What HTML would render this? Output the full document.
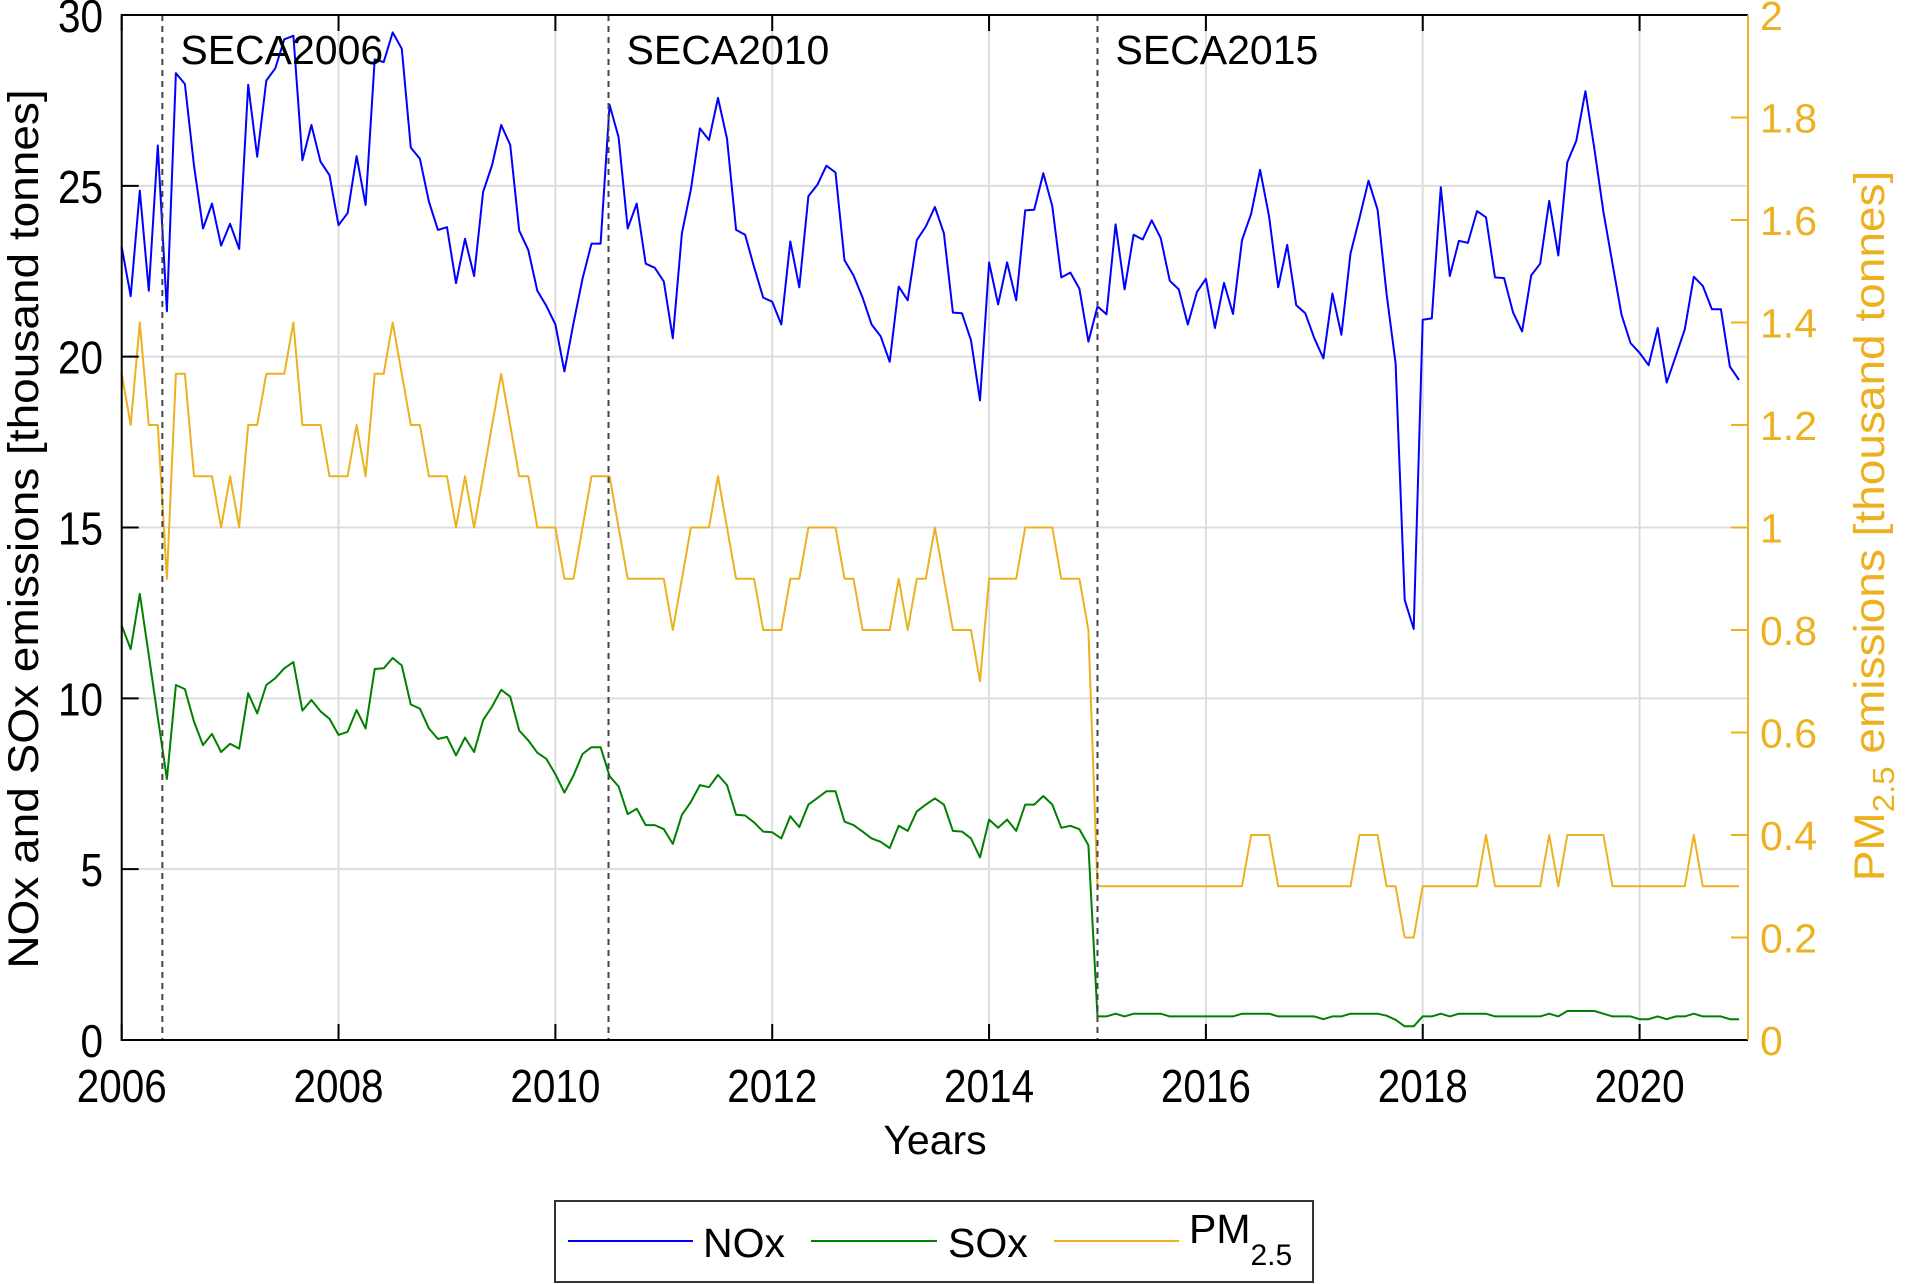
<!DOCTYPE html>
<html><head><meta charset="utf-8">
<style>
html,body{margin:0;padding:0;background:#fff;}
svg{display:block;font-family:"Liberation Sans",sans-serif;}
</style></head>
<body>
<svg id="chart" width="1906" height="1284" viewBox="0 0 1906 1284" xmlns="http://www.w3.org/2000/svg">
<rect x="0" y="0" width="1906" height="1284" fill="#fff"/>
<g id="grid"></g>
<g id="marks"></g>
<g id="axes"></g>
<text x="0" y="0" transform="translate(38,529) rotate(-90) scale(1,0.92)" text-anchor="middle" font-size="46" fill="#000">NOx and SOx emissions [thousand tonnes]</text>
<text x="0" y="0" transform="translate(1884,526) rotate(-90) scale(1,0.92)" text-anchor="middle" font-size="46" fill="#EDB120">PM<tspan font-size="33" dy="11">2.5</tspan><tspan dy="-11"> emissions [thousand tonnes]</tspan></text>
<text x="935" y="1154" text-anchor="middle" font-size="41" fill="#000">Years</text>
<g>
<rect x="555" y="1201" width="758" height="81" fill="#fff" stroke="#333" stroke-width="2"/>
<line x1="568" y1="1241" x2="693" y2="1241" stroke="#0000ff" stroke-width="2"/>
<text x="703" y="1257" font-size="41">NOx</text>
<line x1="811" y1="1241" x2="937" y2="1241" stroke="#008000" stroke-width="2"/>
<text x="948" y="1257" font-size="41">SOx</text>
<line x1="1054" y1="1241" x2="1179" y2="1241" stroke="#EDB120" stroke-width="2"/>
<text x="1189" y="1243" font-size="41">PM<tspan font-size="30" dy="22">2.5</tspan></text>
</g>
</svg>
<script>
const nox = [23.21,21.77,24.86,21.93,26.18,21.33,28.30,27.98,25.59,23.75,24.48,23.25,23.89,23.15,27.96,25.85,28.08,28.44,29.29,29.39,25.75,26.78,25.71,25.31,23.85,24.20,25.87,24.44,28.70,28.62,29.49,29.01,26.12,25.79,24.54,23.71,23.79,22.15,23.45,22.36,24.82,25.61,26.78,26.20,23.69,23.12,21.93,21.49,
20.94,19.57,20.98,22.28,23.31,23.31,27.37,26.42,23.75,24.48,22.72,22.60,22.20,20.54,23.61,24.90,26.68,26.34,27.57,26.38,23.71,23.57,22.62,21.73,21.61,20.94,23.37,22.03,24.70,25.03,25.59,25.39,22.82,22.38,21.73,20.94,20.60,19.85,22.05,21.65,23.41,23.81,24.38,23.61,21.29,21.27,
20.48,18.72,22.76,21.53,22.76,21.65,24.28,24.30,25.37,24.40,22.32,22.46,21.99,20.44,21.47,21.24,23.87,21.97,23.57,23.43,23.99,23.47,22.22,21.97,20.94,21.89,22.28,20.84,22.16,21.25,23.41,24.18,25.47,24.10,22.03,23.27,21.51,21.27,20.54,19.95,21.85,20.64,23.02,24.06,25.15,24.30,21.83,
19.81,12.88,12.03,21.08,21.12,24.96,22.36,23.39,23.33,24.26,24.08,22.32,22.30,21.29,20.74,22.38,22.72,24.56,22.96,25.69,26.32,27.77,26.08,24.24,22.72,21.23,20.40,20.11,19.75,20.84,19.24,20.01,20.80,22.34,22.07,21.39,21.39,19.71,19.32];
const sox = [12.13,11.44,13.06,11.26,9.44,7.64,10.39,10.27,9.32,8.63,8.96,8.43,8.67,8.53,10.15,9.56,10.39,10.59,10.88,11.06,9.64,9.95,9.62,9.40,8.93,9.02,9.66,9.12,10.86,10.88,11.18,10.96,9.82,9.70,9.12,8.81,8.87,8.33,8.85,8.43,9.36,9.76,10.25,10.05,9.06,8.77,8.41,8.23,
7.78,7.24,7.74,8.37,8.57,8.57,7.72,7.42,6.61,6.77,6.29,6.29,6.17,5.74,6.59,6.97,7.46,7.40,7.76,7.46,6.59,6.57,6.37,6.10,6.08,5.90,6.55,6.23,6.89,7.08,7.28,7.28,6.39,6.29,6.10,5.90,5.80,5.62,6.27,6.12,6.69,6.89,7.07,6.89,6.12,6.10,
5.90,5.34,6.45,6.21,6.45,6.12,6.89,6.89,7.14,6.89,6.21,6.27,6.17,5.70,0.69,0.69,0.77,0.69,0.77,0.77,0.77,0.77,0.69,0.69,0.69,0.69,0.69,0.69,0.69,0.69,0.77,0.77,0.77,0.77,0.69,0.69,0.69,0.69,0.69,0.61,0.69,0.69,0.77,0.77,0.77,0.77,0.71,
0.59,0.40,0.40,0.69,0.69,0.77,0.69,0.77,0.77,0.77,0.77,0.69,0.69,0.69,0.69,0.69,0.69,0.77,0.69,0.85,0.85,0.85,0.85,0.77,0.69,0.69,0.69,0.61,0.61,0.69,0.61,0.69,0.69,0.77,0.69,0.69,0.69,0.61,0.61];
const pm25 = [1.3,1.2,1.4,1.2,1.2,0.9,1.3,1.3,1.1,1.1,1.1,1.0,1.1,1.0,1.2,1.2,1.3,1.3,1.3,1.4,1.2,1.2,1.2,1.1,1.1,1.1,1.2,1.1,1.3,1.3,1.4,1.3,1.2,1.2,1.1,1.1,1.1,1.0,1.1,1.0,1.1,1.2,1.3,1.2,1.1,1.1,1.0,1.0,
1.0,0.9,0.9,1.0,1.1,1.1,1.1,1.0,0.9,0.9,0.9,0.9,0.9,0.8,0.9,1.0,1.0,1.0,1.1,1.0,0.9,0.9,0.9,0.8,0.8,0.8,0.9,0.9,1.0,1.0,1.0,1.0,0.9,0.9,0.8,0.8,0.8,0.8,0.9,0.8,0.9,0.9,1.0,0.9,0.8,0.8,
0.8,0.7,0.9,0.9,0.9,0.9,1.0,1.0,1.0,1.0,0.9,0.9,0.9,0.8,0.3,0.3,0.3,0.3,0.3,0.3,0.3,0.3,0.3,0.3,0.3,0.3,0.3,0.3,0.3,0.3,0.3,0.4,0.4,0.4,0.3,0.3,0.3,0.3,0.3,0.3,0.3,0.3,0.3,0.4,0.4,0.4,0.3,
0.3,0.2,0.2,0.3,0.3,0.3,0.3,0.3,0.3,0.3,0.4,0.3,0.3,0.3,0.3,0.3,0.3,0.4,0.3,0.4,0.4,0.4,0.4,0.4,0.3,0.3,0.3,0.3,0.3,0.3,0.3,0.3,0.3,0.4,0.3,0.3,0.3,0.3,0.3];
const startYear = 2006;
const xTicks = [2006,2008,2010,2012,2014,2016,2018,2020];
const yTicks = [0,5,10,15,20,25,30];
const y2Ticks = ["0","0.2","0.4","0.6","0.8","1","1.2","1.4","1.6","1.8","2"];
const secaYears = [2006.375,2010.49,2015.0];
const secaLabels = ["SECA2006","SECA2010","SECA2015"];

const L=121.7,R=1748,T=15,B=1040;
const X0=2006,X1=2021;
const sx=v=>L+(v-X0)/(X1-X0)*(R-L);
const sy=v=>B-(v/30)*(B-T);
const sy2=v=>B-(v/2)*(B-T);
const NS="http://www.w3.org/2000/svg";
function mk(tag,parent,attrs){const e=document.createElementNS(NS,tag);for(const k in attrs)e.setAttribute(k,attrs[k]);parent.appendChild(e);return e;}
const grid=document.getElementById('grid'),marks=document.getElementById('marks'),axes=document.getElementById('axes');

xTicks.forEach(t=>{
  if(t>X0){const g=mk('line',grid,{x1:sx(t),x2:sx(t),y1:T,y2:B,stroke:'#dcdcdc','stroke-width':2});
  
  }
  const a=mk('line',axes,{x1:sx(t),x2:sx(t),y1:B,y2:B-16,stroke:'#000','stroke-width':2});
  
  
  const a2=mk('line',axes,{x1:sx(t),x2:sx(t),y1:T,y2:T+16,stroke:'#000','stroke-width':2});
  
  
  const tx=mk('text',axes,{x:0,y:0,transform:`translate(${sx(t)},1102) scale(0.88,1)`,'text-anchor':'middle','font-size':46});
  tx.textContent=t;
  
  
});
yTicks.forEach(t=>{
  if(t>0&&t<30){const g=mk('line',grid,{x1:L,x2:R,y1:sy(t),y2:sy(t),stroke:'#dcdcdc','stroke-width':2});
  
  }
  const a=mk('line',axes,{x1:L,x2:L+17,y1:sy(t),y2:sy(t),stroke:'#000','stroke-width':2});
  
  
  const tx=mk('text',axes,{x:0,y:0,transform:`translate(103,${sy(t)+17}) scale(0.88,1)`,'text-anchor':'end','font-size':46});
  tx.textContent=t;
  
  
});
y2Ticks.forEach(t=>{
  const v=parseFloat(t);
  const a=mk('line',axes,{x1:R,x2:R-17,y1:sy2(v),y2:sy2(v),stroke:'#EDB120','stroke-width':2});
  
  
  const tx=mk('text',axes,{x:1760,y:sy2(v)+15,'font-size':41,fill:'#EDB120'});
  tx.textContent=t;
  
  
});
function series(arr,scale,color,name){
  const pts=arr.map((v,i)=>sx(startYear+i/12).toFixed(1)+','+scale(v).toFixed(1)).join(' ');
  const p=mk('polyline',marks,{points:pts,fill:'none',stroke:color,'stroke-width':2,'stroke-linejoin':'round'});
  
  
}
series(pm25,sy2,'#EDB120','pm25-line');
series(sox,sy,'#008000','sox-line');
series(nox,sy,'#0000ff','nox-line');
secaYears.forEach((y,i)=>{
  const l=mk('line',marks,{x1:sx(y),x2:sx(y),y1:T,y2:B,stroke:'#444','stroke-width':2,'stroke-dasharray':'6,5'});
  
  
  const tx=mk('text',marks,{x:sx(y)+18,y:64,'font-size':41});
  tx.textContent=secaLabels[i];
  
  
});
const box=mk('path',axes,{d:`M${R},${T} L${L},${T} L${L},${B} L${R},${B}`,fill:'none',stroke:'#000','stroke-width':2});


const ra=mk('line',axes,{x1:R,x2:R,y1:T,y2:B,stroke:'#EDB120','stroke-width':2});


</script>
</body></html>
